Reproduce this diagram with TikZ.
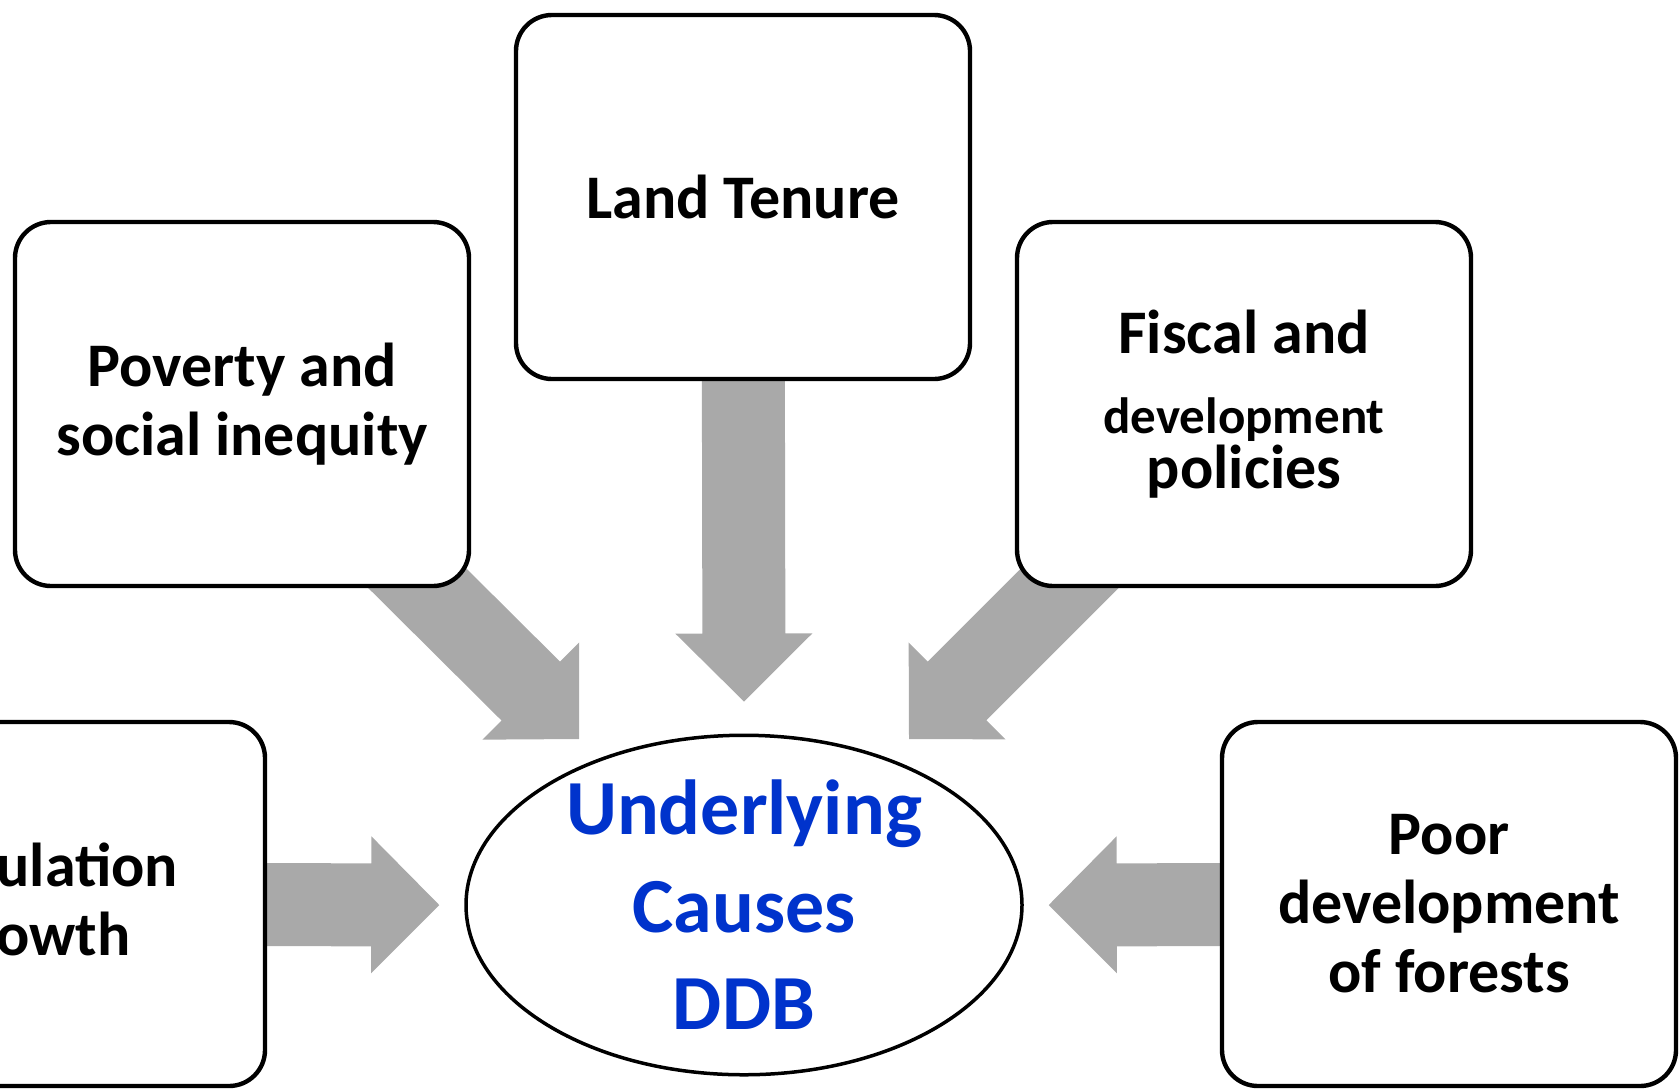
\documentclass[tikz,border=0pt]{standalone}
\usepackage{fontspec}
\setmainfont{Carlito}
\usetikzlibrary{shapes.geometric,calc,backgrounds}

\definecolor{arrowgray}{RGB}{169,169,169}
\definecolor{causeblue}{RGB}{0,51,204}

\tikzset{
  factor/.style={draw=black, line width=2.2pt, fill=white, rounded corners=18pt,
    minimum width=227pt, minimum height=182pt, inner sep=0pt, align=center,
    font=\bfseries\fontsize{31pt}{34.5pt}\selectfont},
  causetext/.style={align=center, text=causeblue,
    font=\bfseries\fontsize{39pt}{48.75pt}\selectfont}
}

% grey block arrow, from #1 (hidden under a box) to the tip #2
\newcommand{\fatarrow}[2]{%
  \path ($(#2)!34pt!(#1)$) coordinate (fa-h);
  \fill[arrowgray] ($(#1)!20.75pt!90:(#2)$) -- ($(fa-h)!20.75pt!90:(#2)$)
    -- ($(fa-h)!34.25pt!90:(#2)$) -- (#2) -- ($(fa-h)!34.25pt!-90:(#2)$)
    -- ($(fa-h)!20.75pt!-90:(#2)$) -- ($(#1)!20.75pt!-90:(#2)$) -- cycle;
}

\begin{document}
\begin{tikzpicture}[x=0.5pt,y=-0.5pt]
                \useasboundingbox (0,0) rectangle (1679,1088);

                \node[factor] (land) at (743,197) {Land Tenure};
                \node[factor] (poverty) at (242,404) {Poverty and\\social inequity};
                \node[factor] (fiscal) at (1244,404) {Fiscal and\\[5.5pt]{\fontsize{25.5pt}{28pt}\selectfont development}\\[-7pt]policies};
                \node[factor] (population) at (38,904) {Population\\growth};
                \node[factor] (poor) at (1449,904) {Poor\\development\\of forests};

                \node[ellipse, draw=black, line width=1.75pt, fill=white, inner sep=0pt,
                  minimum width=278pt, minimum height=169.75pt] (cause) at (744,905) {};
                \node[causetext] (causelabel) at (cause.center) {Underlying\\Causes\\DDB};

                % arrow tips, just short of the ellipse
                \coordinate (tip-n) at ($(cause.north)+(0,16pt)$);
                \coordinate (tip-w) at ($(cause.west)+(-12.5pt,0)$);
                \coordinate (tip-e) at ($(cause.east)+(12.5pt,0)$);
                \coordinate (tip-nw) at ($(cause.center)+(-82.5pt,83pt)$);
                \coordinate (tip-ne) at ($(cause.center)+(82.5pt,83pt)$);

                \begin{pgfonlayer}{background}
                \fatarrow{land.center}{tip-n}
                \fatarrow{poverty.center}{tip-nw}
                \fatarrow{fiscal.center}{tip-ne}
                \fatarrow{population.center}{tip-w}
                \fatarrow{poor.center}{tip-e}
                \end{pgfonlayer}
            \end{tikzpicture}
\end{document}
